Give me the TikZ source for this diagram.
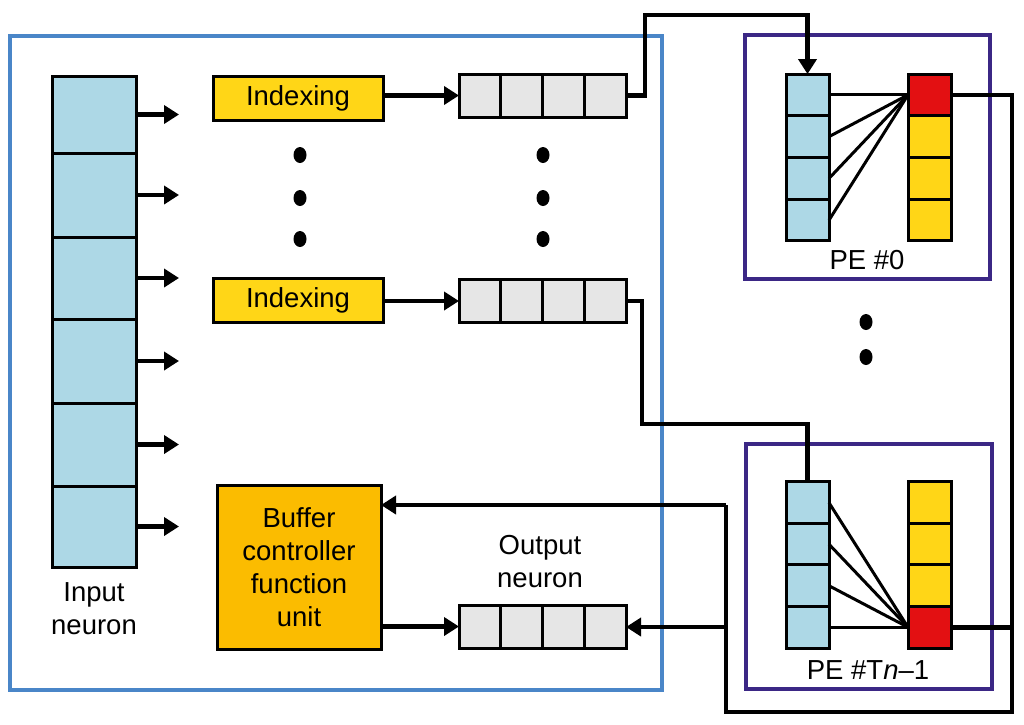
\documentclass[tikz,border=0pt]{standalone}
\usepackage{fontspec}
\setmainfont{Liberation Sans}
\usetikzlibrary{arrows.meta,calc}
\definecolor{cellblue}{HTML}{ADD8E6}
\definecolor{cellgrey}{HTML}{E6E6E6}
\definecolor{idxyellow}{HTML}{FFD617}
\definecolor{bcorange}{HTML}{FBBC00}
\definecolor{pered}{HTML}{E31012}
\definecolor{outerblue}{HTML}{4A86C8}
\definecolor{pepurple}{HTML}{3B2785}
\begin{document}
\begin{tikzpicture}[x=1pt,y=-1pt,
  every node/.style={font=\fontsize{27.5}{33}\selectfont},
  cell/.style={draw=black,line width=3pt,inner sep=0pt,outer sep=0pt},
  incell/.style={cell,fill=cellblue,minimum width=84pt},
  pecell/.style={cell,minimum width=43pt,minimum height=41.6pt},
  bufcell/.style={cell,fill=cellgrey,minimum width=41.75pt,minimum height=43pt},
  idxbox/.style={cell,fill=idxyellow,minimum width=170pt,minimum height=44pt},
  bcbox/.style={cell,fill=bcorange,minimum width=164pt,minimum height=164pt,align=center},
  pebox/.style={draw=pepurple,line width=3.5pt,inner sep=0pt},
  wire/.style={line width=4.5pt},
  arr/.style={wire,-{Triangle[length=15pt,width=18pt]}},
  thinwire/.style={line width=3pt},
  lbl/.style={align=center,inner sep=0pt}
]
\useasboundingbox (0,0) rectangle (1024,724);
% outer frame
\node[draw=outerblue,line width=4.5pt,inner sep=0pt,minimum width=652pt,minimum height=654pt] (core) at (336,363) {};
% input neuron column
\node[incell,minimum height=77pt] (in1) at (94,114.5) {};
\node[incell,minimum height=84pt] (in2) at (94,195) {};
\node[incell,minimum height=82pt] (in3) at (94,278) {};
\node[incell,minimum height=84pt] (in4) at (94,361) {};
\node[incell,minimum height=83pt] (in5) at (94,444.5) {};
\node[incell,minimum height=81pt] (in6) at (94,526.5) {};
\foreach \k in {1,...,6}{
  \draw[arr] (in\k.east) -- ++(43,0);
}
\node[lbl] (inlab) at (94,609) {Input\\neuron};
% indexing boxes
\node[idxbox] (idx1) at (298,98.5) {Indexing};
\node[idxbox] (idx2) at (298,300.5) {Indexing};
% buffers
\foreach \j in {1,...,4}{
  \node[bufcell] (b1\j) at ({459+41.75*(\j-0.5)},95.5) {};
  \node[bufcell] (b2\j) at ({459+41.75*(\j-0.5)},301) {};
  \node[bufcell] (ob\j) at ({459+41.75*(\j-0.5)},626.5) {};
}
\draw[arr] (idx1.east |- b11.west) -- (b11.west);
\draw[arr] (idx2.east |- b21.west) -- (b21.west);
% dots
\foreach \y in {155,198,239}{
  \fill (300,\y) ellipse (6.5 and 8);
  \fill (543,\y) ellipse (6.5 and 8);
}
\foreach \y in {322,357}{
  \fill (866,\y) ellipse (6.5 and 8);
}
% buffer controller
\node[bcbox] (bc) at (299,567) {Buffer\\controller\\function\\unit};
\node[lbl] (outlab) at (540,562) {Output\\neuron};
% PE boxes
\node[pebox,minimum width=245pt,minimum height=244pt] (pe0) at (867.5,157) {};
\node[pebox,minimum width=246pt,minimum height=245pt] (pet) at (869,566.5) {};
\node[anchor=base] (pe0lab) at (867,269) {PE \#0};
\node[anchor=base] (petlab) at (868,679) {PE \#T\textit{n}–1};
% PE cells
\foreach \k in {1,...,4}{
  \node[pecell,fill=cellblue] (p0b\k) at (807.5,{74+41.75*(\k-0.5)}) {};
  \node[pecell,fill=cellblue] (ptb\k) at (807.5,{482+41.5*(\k-0.5)}) {};
}
\node[pecell,fill=pered] (p0r1) at (929.5,{74+41.75*0.5}) {};
\foreach \k in {2,3,4}{
  \node[pecell,fill=idxyellow] (p0r\k) at (929.5,{74+41.75*(\k-0.5)}) {};
}
\foreach \k in {1,2,3}{
  \node[pecell,fill=idxyellow] (ptr\k) at (929.5,{482+41.5*(\k-0.5)}) {};
}
\node[pecell,fill=pered] (ptr4) at (929.5,{482+41.5*3.5}) {};
% PE internal lines
\foreach \k in {1,...,4}{
  \draw[thinwire] (p0b\k.east) -- (p0r1.west);
  \draw[thinwire] (ptb\k.east) -- (ptr4.west);
}
% connectors
\draw[arr] (b14.east) -| (645,15) -| (p0b1.north);
\draw[wire] (b24.east) -| (642,424) -| (ptb1.north);
\coordinate (j1) at (726,505);
\coordinate (j2) at (726,627);
\coordinate (rc) at (1012,712);
\draw[wire] (p0r1.east) -| (rc) -| (j1);
\draw[wire] (ptr4.east) -- (ptr4.east -| rc);
\draw[arr] (j1) -- (j1 -| bc.east);
\draw[arr] (j2) -- (j2 -| ob4.east);
\draw[arr] (bc.east |- ob1.west) -- (ob1.west);
\end{tikzpicture}
\end{document}
